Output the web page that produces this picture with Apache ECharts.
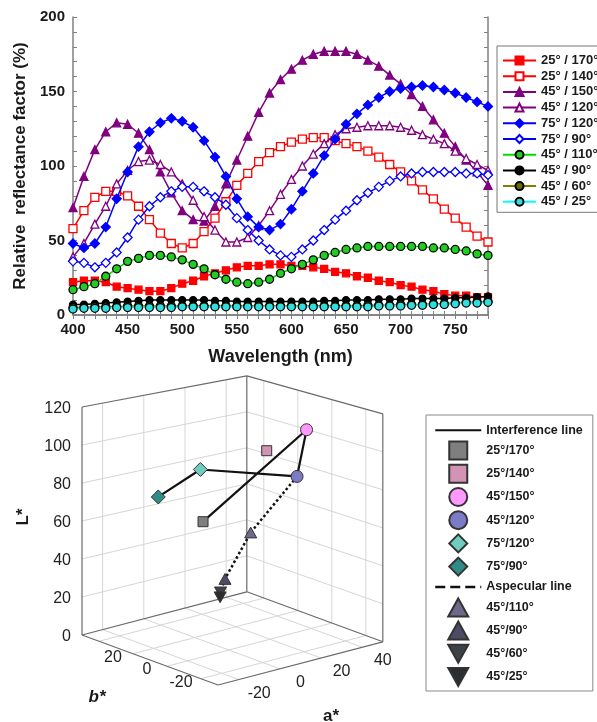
<!DOCTYPE html>
<html>
<head>
<meta charset="utf-8">
<script src="https://cdn.jsdelivr.net/npm/echarts@6/dist/echarts.min.js"></script>
<style>
html,body{margin:0;padding:0;background:#fff}
#main{width:597px;height:722px}
</style>
</head>
<body>
<div id="main"></div>
<script>
// ---- top chart: spectra ----
var wavelengths = [400,410,420,430,440,450,460,470,480,490,500,510,520,530,540,550,560,570,580,590,
                   600,610,620,630,640,650,660,670,680,690,700,710,720,730,740,750,760,770,780];

var s25_170 = [22,23,23,22,19,18,17,16,16,18, 21,23,26,28,30,32,33,33,34,34, 33,33,32,31,29,28,26,25,23,22, 20,19,17,16,14,13,13,12,12];
var s25_140 = [58,70,79,83,83,80,73,64,55,48, 45,48,56,65,76,87,95,103,109,113, 116,118,119,119,117,115,113,110,106,101, 96,90,84,78,71,65,59,53,49];
var s45_150 = [72,93,111,123,129,128,122,111,96,82, 70,64,63,73,88,104,120,136,149,158, 165,171,175,177,177,177,175,171,167,161, 155,148,140,131,122,113,104,96,87];
var s45_120 = [39,48,61,73,88,97,103,104,101,96, 88,77,66,57,49,49,52,60,70,81, 91,100,108,115,121,125,126,127,127,127, 126,124,121,118,115,110,105,101,97];
var s75_120 = [48,45,48,59,78,96,113,123,129,132, 130,126,117,106,93,78,66,59,57,61, 71,83,95,107,118,128,135,141,146,150, 152,153,154,153,151,149,146,143,140];
var s75_90  = [36,35,32,35,42,52,64,73,79,83, 86,86,83,79,74,65,57,50,44,40, 39,44,50,57,64,70,77,82,86,90, 93,95,96,96,96,96,95,95,94];
var s45_110 = [17,19,21,26,31,36,38,40,40,39, 37,34,31,27,24,22,21,22,24,28, 31,34,37,40,42,44,45,46,46,46, 46,46,46,45,45,44,43,41,40];
var s45_90  = [7,7,7.5,8,8.5,9,9.5,10,10,10, 10,10,10,9.5,9.5,9,9,9,9,9, 9,9,9,9.5,9.5,10,10,10,10.5,10.5, 10.5,11,11,11,11,11.5,11.5,12,12.5];
var s45_60  = [5,5,5.5,5.5,5.5,6,6,6,6,6, 6,6,6,6,6,6,6,6,6,6, 6,6,6,6,6,6,6,6.5,6.5,6.5, 7,7,7,7.5,7.5,8,8.5,8.5,9];
var s45_25  = [4,4.5,4.5,4.5,5,5,5,5,5,5, 5.5,5.5,5.5,5.5,5.5,5.5,5.5,5.5,5.5,5.5, 5.5,5.5,5.5,5.5,5.5,5.5,5.5,5.5,6,6, 6,6.5,6.5,7,7,7.5,8,8,8.5];

var topNames = ['25° / 170°','25° / 140°','45° / 150°','45° / 120°','75° / 120°',
                '75° / 90°','45° / 110°','45° / 90°','45° / 60°','45° / 25°'];
var topValues = [s25_170,s25_140,s45_150,s45_120,s75_120,s75_90,s45_110,s45_90,s45_60,s45_25];

// ---- bottom chart: CIELAB points ----
var pointNames = ['25°/170°','25°/140°','45°/150°','45°/120°','75°/120°','75°/90°',
                  '45°/110°','45°/90°','45°/60°','45°/25°'];
var aStar = [-6,15,36,19,-4,-17,13,3,0,-1];
var bStar = [10,-2,0,-15,14,23,5,8,7,6];
var lStar = [60,96,102,85,86,72,51,28,22,20];
var interferenceOrder = ['75°/90°','75°/120°','45°/120°','45°/150°','25°/170°'];
var aspecularOrder = ['45°/120°','45°/110°','45°/90°','45°/60°','45°/25°'];

var lTicks = [0,20,40,60,80,100,120];
var aTicks = [-20,0,20,40];
var bTicks = [20,0,-20];
var wallGrid = [-30,-10,10,30];

// styles
var topStyles = [
  {sym:'rect', size:7, fill:'#ff0000', border:'#ff0000', line:'#ff0000'},
  {sym:'rect', size:8, fill:'#ffffff', border:'#ff0000', line:'#ff0000'},
  {sym:'triangle', size:8, fill:'#800080', border:'#800080', line:'#800080'},
  {sym:'triangle', size:8, fill:'#ffffff', border:'#800080', line:'#800080'},
  {sym:'diamond', size:9, fill:'#0000ff', border:'#0000ff', line:'#0000ff'},
  {sym:'diamond', size:9, fill:'#ffffff', border:'#0000ff', line:'#0000ff'},
  {sym:'circle', size:8, fill:'#22cc22', border:'#000000', line:'#00dd00'},
  {sym:'circle', size:7, fill:'#000000', border:'#000000', line:'#000000'},
  {sym:'circle', size:8, fill:'#6b6b00', border:'#000000', line:'#808000'},
  {sym:'circle', size:8, fill:'#33dddd', border:'#000000', line:'#00ffff'}
];
var SQ = 'path://M0,0 L10,0 L10,10 L0,10 Z';
var DIA = 'path://M6,0 L12,6 L6,12 L0,6 Z';
var UP = 'path://M5,0 L10,9 L0,9 Z';
var DOWN = 'path://M0,0 L10,0 L5,9 Z';
var ptStyles = [
  {sym:SQ, size:10, fill:'#7f7f7f'},
  {sym:SQ, size:10, fill:'#d393b4'},
  {sym:'circle', size:12, fill:'#ff99ff'},
  {sym:'circle', size:12, fill:'#7c7cc6'},
  {sym:DIA, size:14, fill:'#6fcdbd'},
  {sym:DIA, size:14, fill:'#2f8c86'},
  {sym:UP, size:12, fill:'#6e6a8c'},
  {sym:UP, size:12, fill:'#4e4b68'},
  {sym:DOWN, size:12, fill:'#3c4246'},
  {sym:DOWN, size:12, fill:'#2a2e30'}
];

// oblique projection of (a*, b*, L*) into the hidden 2D axes of the lower grid
var A0 = -40, A1 = 40, B0 = -40, B1 = 40, LMAX = 120;
function proj(a, b, L) {
  var u = a - A0, v = b - B0;
  var d = (u + v) / 80;
  var s = 2.0 - 0.1 * d;
  return [2.06 * u - 1.7 * v, 0.54 * u + 0.625 * v + s * L];
}
function pointOf(name) {
  var i = pointNames.indexOf(name);
  return proj(aStar[i], bStar[i], lStar[i]);
}

// box + wall grid segments
var segs = [];
wallGrid.forEach(function (g) {
  segs.push([[g,B0,0],[g,B1,0],0]);
  segs.push([[A0,g,0],[A1,g,0],0]);
  segs.push([[g,B1,0],[g,B1,LMAX],0]);
  segs.push([[A1,g,0],[A1,g,LMAX],0]);
});
lTicks.slice(1, -1).forEach(function (L) {
  segs.push([[A0,B1,L],[A1,B1,L],0]);
  segs.push([[A1,B1,L],[A1,B0,L],0]);
});
[
  [[A0,B1,0],[A0,B1,LMAX]], [[A1,B1,0],[A1,B1,LMAX]], [[A1,B0,0],[A1,B0,LMAX]],
  [[A0,B1,LMAX],[A1,B1,LMAX]], [[A1,B1,LMAX],[A1,B0,LMAX]],
  [[A0,B1,0],[A0,B0,0]], [[A0,B0,0],[A1,B0,0]], [[A0,B1,0],[A1,B1,0]], [[A1,B1,0],[A1,B0,0]]
].forEach(function (e) { segs.push([e[0], e[1], 1]); });

var segData = segs.map(function (s) {
  var p = proj(s[0][0], s[0][1], s[0][2]), q = proj(s[1][0], s[1][1], s[1][2]);
  return [p[0], p[1], q[0], q[1], s[2]];
});

var labelItems = [];
lTicks.forEach(function (L) {
  labelItems.push({value: proj(A0, B1, L), text: String(L), dx: -11, dy: 2, align: 'right'});
});
bTicks.forEach(function (b) {
  labelItems.push({value: proj(A0, b, 0), text: String(b), dx: -3, dy: 10, align: 'center'});
});
aTicks.forEach(function (a) {
  labelItems.push({value: proj(a, B0, 0), text: String(a), dx: 0, dy: 19, align: 'center'});
});

var chart = echarts.init(document.getElementById('main'));

var series = [];
topNames.forEach(function (n, i) {
  var st = topStyles[i];
  series.push({
    type: 'line', name: n, xAxisIndex: 0, yAxisIndex: 0,
    data: wavelengths.map(function (w, j) { return [w, topValues[i][j]]; }),
    symbol: st.sym, symbolSize: st.size, showSymbol: true, showAllSymbol: true,
    itemStyle: {color: st.fill, borderColor: st.border, borderWidth: 1.3},
    lineStyle: {color: st.line, width: 1.5},
    silent: true, z: 2 + i * 0.01
  });
});

series.push({
  type: 'custom', name: 'box', xAxisIndex: 2, yAxisIndex: 2, silent: true, z: 1,
  encode: {x: [0, 2], y: [1, 3]},
  data: segData,
  renderItem: function (params, api) {
    var p1 = api.coord([api.value(0), api.value(1)]);
    var p2 = api.coord([api.value(2), api.value(3)]);
    var edge = api.value(4) === 1;
    return {type: 'line', shape: {x1: p1[0], y1: p1[1], x2: p2[0], y2: p2[1]},
      style: {stroke: edge ? '#6a6a6a' : '#d6d6d6', lineWidth: edge ? 1.2 : 1}};
  }
});
series.push({
  type: 'custom', name: 'ticklabels', xAxisIndex: 2, yAxisIndex: 2, silent: true, z: 1,
  encode: {x: 0, y: 1},
  data: labelItems.map(function (it) { return it.value; }),
  renderItem: function (params, api) {
    var it = labelItems[params.dataIndex];
    var p = api.coord([api.value(0), api.value(1)]);
    return {type: 'text', x: p[0] + it.dx, y: p[1] + it.dy,
      style: {text: it.text, align: it.align, verticalAlign: 'middle',
        fill: '#222', font: '16px "Liberation Sans", Arial'}};
  }
});
var noMark = {color: 'rgba(0,0,0,0)', borderWidth: 0, opacity: 0};
series.push({
  type: 'line', name: 'Interference line', xAxisIndex: 2, yAxisIndex: 2,
  data: interferenceOrder.map(pointOf), symbol: 'none', itemStyle: noMark,
  lineStyle: {color: '#111', width: 2.2}, silent: true, z: 3
});
series.push({
  type: 'line', name: 'Aspecular line', xAxisIndex: 2, yAxisIndex: 2,
  data: aspecularOrder.map(pointOf), symbol: 'none', itemStyle: noMark,
  lineStyle: {color: '#111', width: 2.5, type: 'dotted'}, silent: true, z: 3
});
pointNames.forEach(function (n, i) {
  var st = ptStyles[i];
  series.push({
    type: 'scatter', name: n, xAxisIndex: 2, yAxisIndex: 2,
    data: [proj(aStar[i], bStar[i], lStar[i])],
    symbol: st.sym, symbolSize: st.size, symbolKeepAspect: true,
    itemStyle: {color: st.fill, borderColor: '#333', borderWidth: 1, opacity: 1},
    silent: true, z: 4
  });
});

var frame = {lineStyle: {color: '#808080', width: 1.5}};
var ticks = {inside: true, length: 4, lineStyle: {color: '#808080', width: 1}};
var tickLabel = {color: '#1a1a1a', fontWeight: 'bold', fontSize: 15, fontFamily: '"Liberation Sans", Arial'};

var option = {
  animation: false,
  backgroundColor: '#fff',
  textStyle: {fontFamily: '"Liberation Sans", Arial'},
  grid: [
    {left: 73, top: 17, width: 415, height: 298},
    {left: 78, top: 365, width: 310, height: 357}
  ],
  xAxis: [
    {type: 'value', gridIndex: 0, min: 400, max: 780, interval: 10, position: 'bottom',
     axisLine: frame, axisTick: ticks, splitLine: {show: false},
     axisLabel: Object.assign({margin: 7, formatter: function (v) { return v % 50 === 0 ? v : ''; }}, tickLabel),
     name: 'Wavelength (nm)', nameLocation: 'middle', nameGap: 33,
     nameTextStyle: {fontWeight: 'bold', fontSize: 18, color: '#1a1a1a'}},
    {type: 'value', gridIndex: 0, min: 400, max: 780, interval: 10, position: 'top',
     axisLine: frame, axisTick: ticks, splitLine: {show: false}, axisLabel: {show: false}},
    {type: 'value', gridIndex: 1, min: -140, max: 170, show: false}
  ],
  yAxis: [
    {type: 'value', gridIndex: 0, min: 0, max: 200, interval: 10, position: 'left',
     axisLine: frame, axisTick: ticks, splitLine: {show: false},
     axisLabel: Object.assign({margin: 8, formatter: function (v) { return v % 50 === 0 ? v : ''; }}, tickLabel),
     name: 'Relative  reflectance factor (%)', nameLocation: 'middle', nameGap: 42,
     nameTextStyle: {fontWeight: 'bold', fontSize: 17, color: '#1a1a1a'}},
    {type: 'value', gridIndex: 0, min: 0, max: 200, interval: 10, position: 'right',
     axisLine: frame, axisTick: ticks, splitLine: {show: false}, axisLabel: {show: false}},
    {type: 'value', gridIndex: 1, min: -37, max: 320, show: false}
  ],
  legend: [
    {orient: 'vertical', left: 497, top: 46, padding: [8, 5, 4, 5],
     itemWidth: 33, itemHeight: 10, itemGap: 2.7, selectedMode: false,
     borderColor: '#777', borderWidth: 1,
     textStyle: {fontWeight: 'bold', fontSize: 13, color: '#1a1a1a', lineHeight: 13},
     data: topNames},
    {orient: 'vertical', left: 426, top: 415, padding: [8, 10, 4, 8],
     itemWidth: 46, itemHeight: 18, itemGap: 3.2, selectedMode: false,
     symbolKeepAspect: true,
     borderColor: '#888', borderWidth: 1,
     textStyle: {fontWeight: 'bold', fontSize: 12.5, color: '#1a1a1a'},
     data: [{name: 'Interference line', itemStyle: noMark}].concat(pointNames.slice(0, 6),
           [{name: 'Aspecular line', itemStyle: noMark, lineStyle: {type: 'dashed', width: 2.5}}], pointNames.slice(6))}
  ],
  graphic: [
    {type: 'text', x: 23, y: 517, rotation: Math.PI / 2,
     style: {text: 'L*', font: 'bold 17px "Liberation Sans", Arial', fill: '#1a1a1a', align: 'center', verticalAlign: 'middle'}},
    {type: 'text', x: 97, y: 697,
     style: {text: 'b*', font: 'italic bold 17px "Liberation Sans", Arial', fill: '#1a1a1a', align: 'center', verticalAlign: 'middle'}},
    {type: 'text', x: 331, y: 708,
     style: {text: 'a*', font: 'bold 17px "Liberation Sans", Arial', fill: '#1a1a1a', align: 'center', verticalAlign: 'top'}}
  ],
  series: series
};
chart.setOption(option);
</script>
</body>
</html>
